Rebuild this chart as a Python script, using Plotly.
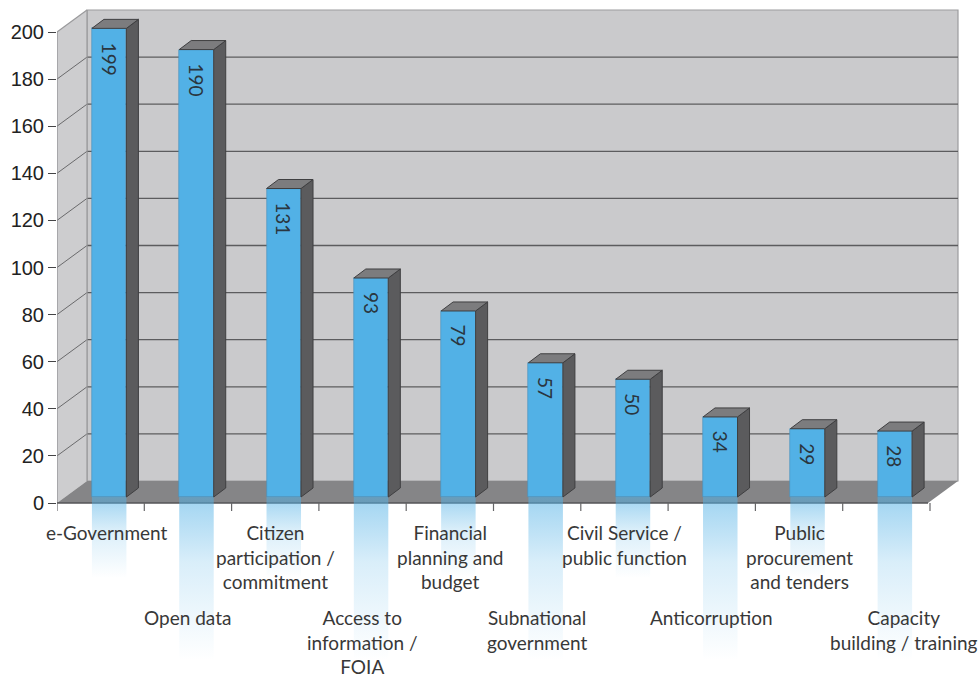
import plotly.graph_objects as go

# ---- data -------------------------------------------------------------
categories = [
    "e-Government",
    "Open data",
    "Citizen<br>participation /<br>commitment",
    "Access to<br>information /<br>FOIA",
    "Financial<br>planning and<br>budget",
    "Subnational<br>government",
    "Civil Service /<br>public function",
    "Anticorruption",
    "Public<br>procurement<br>and tenders",
    "Capacity<br>building / training",
]
counts = [199, 190, 131, 93, 79, 57, 50, 34, 29, 28]
y_ticks = [0, 20, 40, 60, 80, 100, 120, 140, 160, 180, 200]
y_top = 200

# ---- page geometry ----------------------------------------------------
W, H = 979, 679
ML = 57                 # left margin (front value axis)
CAT_PX = 87.3           # pixels per category
PX_PER_UNIT = 2.355     # pixels per value unit
ZERO_PX = 503           # vertical pixel of value 0 on the front axis

n = len(counts)
x_range = [-0.5, -0.5 + (W - ML) / CAT_PX]
y_range = [-(H - ZERO_PX) / PX_PER_UNIT, ZERO_PX / PX_PER_UNIT]

def px_x(p):
    return p / CAT_PX

def px_y(p):
    return p / PX_PER_UNIT

# box depth of the walls / floor
DX, DY = px_x(30), px_y(22)
# bar placement inside the box
BASE = px_y(6)
BAR_OFF = 0.40
BAR_W = px_x(34.5)
BDX, BDY = px_x(12), px_y(9)
FLOOR_RIGHT = n - 0.5 - px_x(2)
WALL_RIGHT = FLOOR_RIGHT + DX

# ---- colours ------------------------------------------------------------
WALL = "#cacacc"
SIDE_WALL = "#cdcdcf"
FLOOR = "#858587"
GRID = "#5c5c5e"
BLUE = "#52b1e6"
BAR_SIDE = "#5b5b5d"
BAR_TOP = "#7c7c7e"
EDGE = "#3f3f41"
TEXT = "#383838"

LABEL_FONT = dict(family="Lato", size=19, color=TEXT)

fig = go.Figure()
shapes = []

def poly(points):
    return "M " + " L ".join(f"{x},{y}" for x, y in points) + " Z"

# back wall
shapes.append(dict(type="path", layer="below", xref="x", yref="y",
                   path=poly([(-0.5 + DX, DY), (WALL_RIGHT, DY),
                              (WALL_RIGHT, y_top + DY), (-0.5 + DX, y_top + DY)]),
                   fillcolor=WALL, line=dict(color="#9c9c9e", width=1.2)))
# side wall
shapes.append(dict(type="path", layer="below", xref="x", yref="y",
                   path=poly([(-0.5, 0), (-0.5 + DX, DY),
                              (-0.5 + DX, y_top + DY), (-0.5, y_top)]),
                   fillcolor=SIDE_WALL, line=dict(width=0)))
# grid lines on both walls
for v in y_ticks[1:-1]:
    shapes.append(dict(type="line", layer="below", xref="x", yref="y",
                       x0=-0.5 + DX, x1=WALL_RIGHT, y0=v + DY, y1=v + DY,
                       line=dict(color=GRID, width=1.3)))
    shapes.append(dict(type="line", layer="below", xref="x", yref="y",
                       x0=-0.5, x1=-0.5 + DX, y0=v, y1=v + DY,
                       line=dict(color="#6a6a6c", width=1)))
# wall edges
shapes.append(dict(type="line", layer="below", xref="x", yref="y",
                   x0=-0.5 + DX, x1=-0.5 + DX, y0=DY, y1=y_top + DY,
                   line=dict(color="#9a9a9c", width=1.2)))
shapes.append(dict(type="line", layer="below", xref="x", yref="y",
                   x0=-0.5, x1=-0.5 + DX, y0=y_top, y1=y_top + DY,
                   line=dict(color="#9a9a9c", width=1.2)))
shapes.append(dict(type="line", layer="below", xref="x", yref="y",
                   x0=-0.5, x1=-0.5, y0=0, y1=y_top,
                   line=dict(color="#8e8e90", width=1.2)))
# floor
shapes.append(dict(type="path", layer="below", xref="x", yref="y",
                   path=poly([(-0.5, 0), (FLOOR_RIGHT, 0),
                              (WALL_RIGHT, DY), (-0.5 + DX, DY)]),
                   fillcolor=FLOOR, line=dict(width=0)))
shapes.append(dict(type="line", layer="below", xref="x", yref="y",
                   x0=-0.5, x1=FLOOR_RIGHT, y0=0, y1=0,
                   line=dict(color="#555557", width=1.3)))
# category ticks below the floor edge
for b in range(n + 1):
    shapes.append(dict(type="line", layer="below", xref="x", yref="y",
                       x0=b - 0.5, x1=b - 0.5, y0=0, y1=-px_y(8),
                       line=dict(color="#666668", width=1.2)))

# ---- reflections under the bars --------------------------------------------
for i, v in enumerate(counts):
    x0 = i - 0.5 + BAR_OFF
    x1 = x0 + BAR_W
    bottom = -px_y(75) if i % 2 == 0 else -px_y(157)
    fig.add_trace(go.Scatter(
        x=[x0, x1, x1, x0, x0], y=[BASE, BASE, bottom, bottom, BASE],
        mode="lines", line=dict(width=0), fill="toself",
        fillgradient=dict(type="vertical",
                          colorscale=[[0, "rgba(82,177,230,0)"],
                                      [0.6, "rgba(82,177,230,0.22)"],
                                      [1, "rgba(82,177,230,0.55)"]]),
        hoverinfo="skip", showlegend=False))

# ---- bar front faces ------------------------------------------------------
bar_x = [i - 0.5 + BAR_OFF + BAR_W / 2 for i in range(n)]
fig.add_trace(go.Bar(
    x=bar_x, y=counts, base=BASE, width=BAR_W,
    marker=dict(color=BLUE, line=dict(color="#4a8fb8", width=0.6)),
    hoverinfo="skip", showlegend=False))

# ---- bar sides and tops ------------------------------------------------------
for i, v in enumerate(counts):
    x0 = i - 0.5 + BAR_OFF
    x1 = x0 + BAR_W
    top = BASE + v
    fig.add_trace(go.Scatter(
        x=[x1, x1 + BDX, x1 + BDX, x1, x1],
        y=[BASE, BASE + BDY, top + BDY, top, BASE],
        mode="lines", fill="toself", fillcolor=BAR_SIDE,
        line=dict(color=EDGE, width=1), hoverinfo="skip", showlegend=False))
    fig.add_trace(go.Scatter(
        x=[x0, x1, x1 + BDX, x0 + BDX, x0],
        y=[top, top, top + BDY, top + BDY, top],
        mode="lines", fill="toself", fillcolor=BAR_TOP,
        line=dict(color=EDGE, width=1), hoverinfo="skip", showlegend=False))

# ---- annotations ---------------------------------------------------------------
annotations = []
for i, v in enumerate(counts):
    annotations.append(dict(
        x=bar_x[i], y=BASE + v, xref="x", yref="y",
        text=str(v), textangle=90, showarrow=False,
        xanchor="center", yanchor="top", yshift=-12,
        font=dict(family="Lato", size=19, color="#2a3640")))

for i, label in enumerate(categories):
    row_y = -px_y(15.5) if i % 2 == 0 else -px_y(100.5)
    ann = dict(x=i, y=row_y, xref="x", yref="y", text=label,
               showarrow=False, yanchor="top", xanchor="center",
               align="center", font=LABEL_FONT)
    if i == 0:
        ann.update(xshift=6)
    if i == n - 1:
        ann.update(x=1.0, xref="paper", xanchor="right", xshift=1)
    annotations.append(ann)

fig.update_layout(
    width=W, height=H,
    margin=dict(l=ML, r=0, t=0, b=0),
    paper_bgcolor="white", plot_bgcolor="white",
    shapes=shapes, annotations=annotations,
    bargap=0, barmode="overlay",
    xaxis=dict(range=x_range, visible=False, fixedrange=True),
    yaxis=dict(range=y_range, tickmode="array", tickvals=y_ticks,
               ticktext=[str(t) for t in y_ticks],
               ticks="outside", ticklen=8, tickwidth=1.2, tickcolor="#444446",
               showgrid=False, zeroline=False, showline=False,
               tickfont=dict(family="Liberation Sans", size=20, color="#222222"),
               fixedrange=True),
)

fig.write_html("out.html")
